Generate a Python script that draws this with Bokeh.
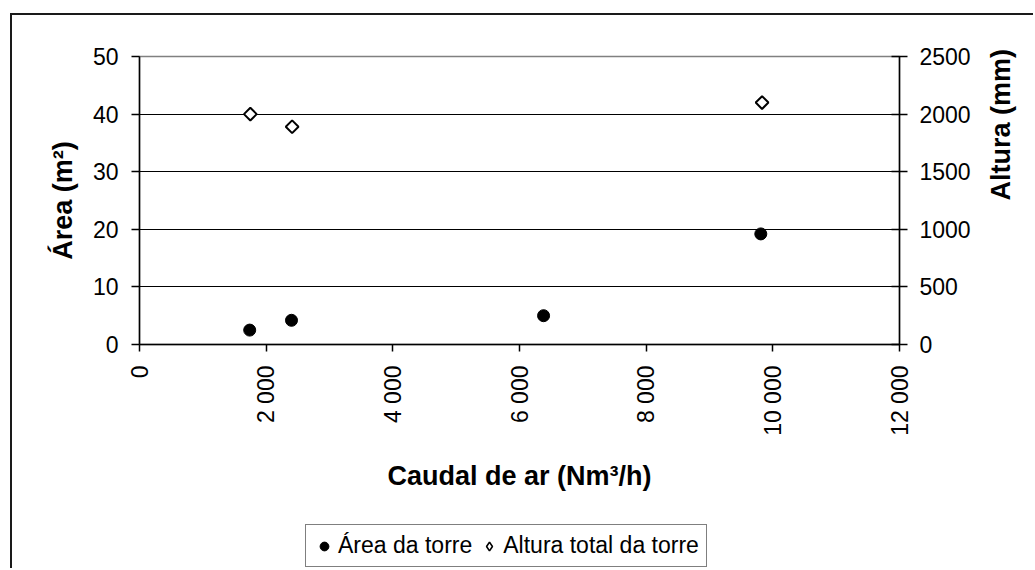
import math
import sys
from bokeh.plotting import figure
from bokeh.layouts import column
from bokeh.models import Range1d, LinearAxis, FixedTicker, Legend, LegendItem
from bokeh.embed import file_html
from bokeh.resources import INLINE

# ---- data ----
caudal_area = [1740, 2400, 6380, 9810]
area = [2.5, 4.2, 5.0, 19.2]
caudal_altura = [1750, 2410, 9830]
altura = [2000, 1890, 2100]

x_ticks = [0, 2000, 4000, 6000, 8000, 10000, 12000]
x_tick_labels = ["0", "2 000", "4 000", "6 000", "8 000", "10 000", "12 000"]
y_ticks = [0, 10, 20, 30, 40, 50]
y2_ticks = [0, 500, 1000, 1500, 2000, 2500]
grid_ticks = [10, 20, 30, 40]
legend_labels = ["Área da torre", "Altura total da torre"]

FONT = "Liberation Sans"

p = figure(width=1021, height=494,
           x_range=Range1d(0, 12000), y_range=Range1d(0, 50),
           output_backend="svg", toolbar_location=None,
           min_border_left=127, min_border_right=133,
           min_border_top=41, min_border_bottom=165)
p.extra_y_ranges = {"alt": Range1d(0, 2500)}
p.background_fill_color = "white"
p.border_fill_color = "white"
p.outline_line_color = "#808080"
p.outline_line_width = 1.5

p.xgrid.visible = False
p.ygrid.ticker = FixedTicker(ticks=grid_ticks)
p.ygrid.grid_line_color = "black"
p.ygrid.grid_line_width = 1


def style_axis(ax):
    ax.axis_line_color = "black"
    ax.axis_line_width = 1.5
    ax.major_tick_line_color = "black"
    ax.major_tick_line_width = 1.5
    ax.minor_tick_line_color = None
    ax.major_label_text_font = FONT
    ax.major_label_text_font_size = "23px"
    ax.major_label_text_color = "black"
    ax.axis_label_text_font = FONT
    ax.axis_label_text_font_size = "27px"
    ax.axis_label_text_font_style = "bold"
    ax.axis_label_text_color = "black"


xa = p.xaxis[0]
style_axis(xa)
xa.ticker = FixedTicker(ticks=x_ticks)
xa.major_label_overrides = {t: l for t, l in zip(x_ticks, x_tick_labels)}
xa.major_label_orientation = math.pi / 2
xa.major_tick_in = 0
xa.major_tick_out = 7
xa.major_label_standoff = 14
xa.axis_label = "Caudal de ar (Nm³/h)"
xa.axis_label_standoff = 22

ya = p.yaxis[0]
style_axis(ya)
ya.ticker = FixedTicker(ticks=y_ticks)
ya.major_tick_in = 0
ya.major_tick_out = 8
ya.major_label_standoff = 13
ya.axis_label = "Área (m²)"
ya.axis_label_standoff = 12

yr = LinearAxis(y_range_name="alt", ticker=FixedTicker(ticks=y2_ticks),
                axis_label="Altura (mm)")
style_axis(yr)
yr.major_tick_in = 8
yr.major_tick_out = 8
yr.major_label_standoff = 12
yr.axis_label_standoff = 27
try:
    yr.axis_label_orientation = math.pi / 2
except Exception as e:
    print("no axis_label_orientation", e, file=sys.stderr)
p.add_layout(yr, "right")

circle_style = dict(marker="circle", fill_color="black", line_color="black")
diamond_style = dict(fill_color="white", line_color="black", line_width=2)

p.scatter(caudal_area, area, size=12, **circle_style)
p.scatter(caudal_altura, altura, y_range_name="alt", size=9,
          marker="square", angle=math.pi / 4, **diamond_style)

# ---- legend strip below the chart (its view range excludes the data,
#      so the renderers only supply the legend swatches) ----
p2 = figure(width=1021, height=59, x_range=Range1d(0, 1), y_range=Range1d(0, 1),
            x_axis_type=None, y_axis_type=None,
            output_backend="svg", toolbar_location=None,
            min_border_left=0, min_border_right=0,
            min_border_top=0, min_border_bottom=0)
p2.outline_line_color = None
p2.background_fill_color = "white"
p2.border_fill_color = "white"
lr1 = p2.scatter(caudal_area, area, size=10, **circle_style)
lr2 = p2.scatter(caudal_altura, altura, size=10, marker="diamond",
                 **dict(diamond_style, line_width=1.6))

legend = Legend(items=[LegendItem(label=legend_labels[0], renderers=[lr1]),
                       LegendItem(label=legend_labels[1], renderers=[lr2])],
                location=(166, 1), orientation="horizontal",
                border_line_color="black", border_line_width=1,
                background_fill_color="white", background_fill_alpha=1,
                label_text_font=FONT, label_text_font_size="23px",
                label_text_color="black",
                glyph_width=22, glyph_height=24, label_standoff=3,
                spacing=6, padding=7, margin=0)
p2.add_layout(legend)

layout = column(p, p2, spacing=0)
layout.styles = {"margin-left": "10px", "margin-top": "13px",
                 "border-left": "2px solid #1a1a1a", "border-top": "2px solid #1a1a1a"}

open("out.html", "w").write(file_html(layout, INLINE))
